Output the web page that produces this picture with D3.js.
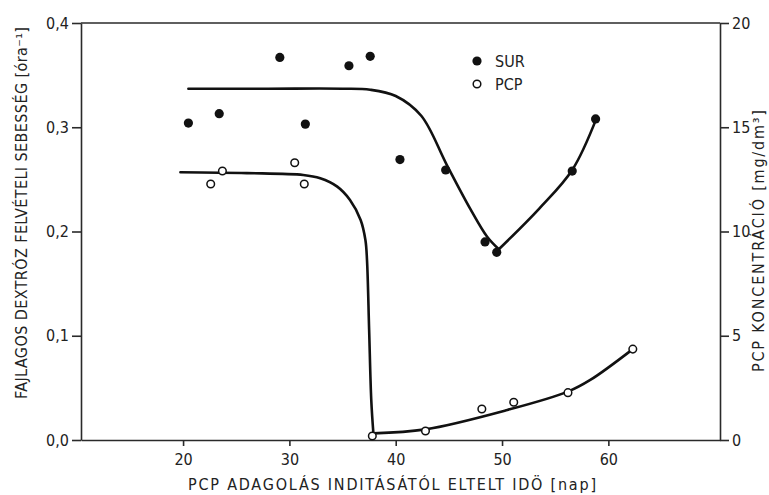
<!DOCTYPE html>
<html>
<head>
<meta charset="utf-8">
<script src="https://cdn.jsdelivr.net/npm/d3@7"></script>
<style>
  body { margin: 0; background: #fff; }
  svg { display: block; }
  text { font-family: "DejaVu Sans Condensed", "DejaVu Sans", sans-serif; fill: #222; }
</style>
</head>
<body>
<svg></svg>
<script>
// measured points, SUR (left axis, 1/h) and PCP (right axis, mg/dm3)
const surDays = [20.5, 23.4, 29.1, 31.5, 35.6, 37.6, 40.4, 44.7, 48.4, 49.5, 56.6, 58.8];
const surRate = [0.304, 0.313, 0.367, 0.303, 0.359, 0.368, 0.269, 0.259, 0.190, 0.180, 0.258, 0.308];

const pcpDays = [22.6, 23.7, 30.5, 31.4, 37.8, 42.8, 48.1, 51.1, 56.2, 62.3];
const pcpConc = [12.28, 12.9, 13.3, 12.28, 0.19, 0.43, 1.49, 1.81, 2.27, 4.36];

// hand drawn fit curves (each one has a sharp corner, so two pieces)
const surFallDays = [20.5, 28.0, 35.0, 37.6, 40.0, 42.4, 44.8, 47.0, 48.6, 49.7];
const surFallRate = [0.337, 0.337, 0.337, 0.336, 0.330, 0.311, 0.264, 0.222, 0.195, 0.183];
const surRiseDays = [49.7, 53.5, 56.6, 58.9];
const surRiseRate = [0.183, 0.222, 0.259, 0.309];

const pcpDropDays = [19.75, 26.0, 31.3, 32.9, 34.5, 35.7, 36.7, 37.15, 37.3, 37.5, 37.7, 37.9];
const pcpDropConc = [12.84, 12.8, 12.71, 12.55, 12.15, 11.51, 10.55, 9.59, 8.63, 5.28, 1.92, 0.32];
const pcpRiseDays = [37.9, 42.8, 50.5, 56.2, 58.3, 62.3];
const pcpRiseConc = [0.32, 0.51, 1.44, 2.32, 2.88, 4.36];

const xTicks = [20, 30, 40, 50, 60];
const leftTicks = [0, 0.1, 0.2, 0.3, 0.4];
const rightTicks = [0, 5, 10, 15, 20];
const legendNames = ["SUR", "PCP"];

var svgWidth = 769, svgHeight = 495;
var margin = { top: 23, right: 49, bottom: 55, left: 81 };
var width = svgWidth - margin.left - margin.right;
var height = svgHeight - margin.top - margin.bottom;

var svg = d3.select("svg")
    .attr("width", svgWidth)
    .attr("height", svgHeight);

var g = svg.append("g")
    .attr("transform", "translate(" + margin.left + "," + margin.top + ")");

var comma = d3.formatLocale({ decimal: ",", thousands: " ", grouping: [3], currency: ["", ""] }).format(".1f");

var xScale = d3.scaleLinear().domain([10.4, 70.5]).range([0, width]);
var yLeft = d3.scaleLinear().domain([0, 0.4]).range([height, 0]);
var yRight = d3.scaleLinear().domain([0, 20]).range([height, 0]);

function styleAxis(sel) {
    sel.selectAll("path, line").attr("stroke", "#2a2a2a").attr("stroke-width", 1.6);
    sel.selectAll("text").attr("font-size", 16).attr("fill", "#222")
        .style("font-family", '"DejaVu Sans Condensed", "DejaVu Sans", sans-serif');
}

// top frame line
g.append("line")
    .attr("x1", 0).attr("x2", width).attr("y1", 0).attr("y2", 0)
    .attr("stroke", "#2a2a2a").attr("stroke-width", 1.6);

g.append("g")
    .attr("transform", "translate(0," + height + ")")
    .call(d3.axisBottom(xScale).tickValues(xTicks).tickSize(6).tickSizeOuter(0).tickPadding(8))
    .call(styleAxis);

g.append("g")
    .call(d3.axisLeft(yLeft).tickValues(leftTicks).tickFormat(comma).tickSize(9).tickSizeOuter(0).tickPadding(3))
    .call(styleAxis);

g.append("g")
    .attr("transform", "translate(" + width + ",0)")
    .call(d3.axisRight(yRight).tickValues(rightTicks).tickSize(9).tickSizeOuter(0).tickPadding(3))
    .call(styleAxis);

// axis titles
svg.append("text")
    .attr("transform", "translate(27,213) rotate(-90)")
    .attr("text-anchor", "middle")
    .attr("font-size", 16)
    .attr("textLength", 372)
    .attr("lengthAdjust", "spacing")
    .text("FAJLAGOS DEXTRÓZ FELVÉTELI SEBESSÉG [óra⁻¹]");

svg.append("text")
    .attr("transform", "translate(764,241) rotate(-90)")
    .attr("text-anchor", "middle")
    .attr("font-size", 16)
    .attr("textLength", 262)
    .attr("lengthAdjust", "spacing")
    .text("PCP KONCENTRÁCIÓ [mg/dm³]");

svg.append("text")
    .attr("x", 392)
    .attr("y", 490)
    .attr("text-anchor", "middle")
    .attr("font-size", 16)
    .attr("textLength", 408)
    .attr("lengthAdjust", "spacing")
    .text("PCP ADAGOLÁS INDITÁSÁTÓL ELTELT IDÖ [nap]");

// fit curves
function fitPath(xs, ys, yScale) {
    var line = d3.line()
        .x(i => xScale(xs[i]))
        .y(i => yScale(ys[i]))
        .curve(d3.curveCatmullRom.alpha(0.5));
    g.append("path")
        .datum(d3.range(xs.length))
        .attr("fill", "none")
        .attr("stroke", "#111")
        .attr("stroke-width", 2.6)
        .attr("stroke-linejoin", "round")
        .attr("stroke-linecap", "round")
        .attr("d", line);
}

fitPath(surFallDays, surFallRate, yLeft);
fitPath(surRiseDays, surRiseRate, yLeft);
fitPath(pcpDropDays, pcpDropConc, yRight);
fitPath(pcpRiseDays, pcpRiseConc, yRight);

// points
g.selectAll(".sur")
    .data(d3.range(surDays.length))
    .enter().append("circle")
    .attr("class", "sur")
    .attr("cx", i => xScale(surDays[i]))
    .attr("cy", i => yLeft(surRate[i]))
    .attr("r", 4.6)
    .attr("fill", "#111");

g.selectAll(".pcp")
    .data(d3.range(pcpDays.length))
    .enter().append("circle")
    .attr("class", "pcp")
    .attr("cx", i => xScale(pcpDays[i]))
    .attr("cy", i => yRight(pcpConc[i]))
    .attr("r", 3.8)
    .attr("fill", "#fff")
    .attr("stroke", "#111")
    .attr("stroke-width", 1.5);

// legend
var legend = svg.append("g").attr("transform", "translate(477,61)");
legendNames.forEach(function (name, i) {
    var row = legend.append("g").attr("transform", "translate(0," + (i * 23) + ")");
    row.append("circle")
        .attr("r", i === 0 ? 4.6 : 3.8)
        .attr("fill", i === 0 ? "#111" : "#fff")
        .attr("stroke", "#111")
        .attr("stroke-width", i === 0 ? 0 : 1.5);
    row.append("text")
        .attr("x", 18)
        .attr("dy", "0.36em")
        .attr("font-size", 16)
        .text(name);
});
</script>
</body>
</html>
